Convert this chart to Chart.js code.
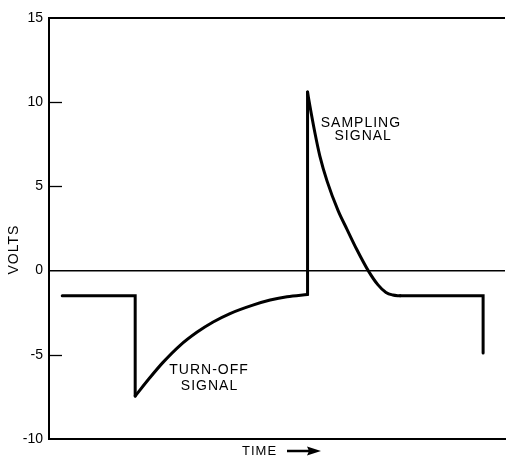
<!DOCTYPE html>
<html>
<head>
<meta charset="utf-8">
<script src="https://cdn.jsdelivr.net/npm/chart.js@4/dist/chart.umd.min.js"></script>
<style>
  html, body { margin: 0; padding: 0; background: #fff; }
  canvas { display: block; }
</style>
</head>
<body>
<canvas id="chart" width="508" height="457"></canvas>
<script>
// tick values on the volts axis
const voltTicks = [15, 10, 5, 0, -5, -10];

// flat level before the turn-off pulse
const leadTime = [2.9, 18.9, 18.9];
const leadVolts = [-1.5, -1.5, -7.45];

// turn-off signal, recovering towards the base level
const turnOffTime = [18.9, 22.15, 25.0, 28.7, 32.5, 36.0, 39.7, 44.7, 48.5, 52.2, 56.7];
const turnOffVolts = [-7.45, -6.35, -5.45, -4.45, -3.65, -3.05, -2.55, -2.05, -1.75, -1.55, -1.42];

// jump up to the sampling peak
const jumpTime = [56.7, 56.7];
const jumpVolts = [-1.42, 10.6];

// sampling signal decaying back
const samplingTime = [56.7, 57.2, 58.3, 59.4, 61.0, 63.4, 65.35, 67.5, 70.0, 72.15, 73.9, 75.4, 77.0];
const samplingVolts = [10.6, 9.8, 8.2, 6.8, 5.3, 3.56, 2.45, 1.25, 0.0, -0.85, -1.3, -1.45, -1.5];

// flat level after, then the drop at the end
const tailTime = [77.0, 95.2, 95.2];
const tailVolts = [-1.5, -1.5, -4.9];

// notes written on the plot
const noteText = ["SAMPLING", "SIGNAL", "TURN-OFF", "SIGNAL"];
const noteTime = [68.4, 68.9, 35.1, 35.2];
const noteVolts = [8.76, 7.99, -5.94, -6.89];

const FONT = "'Liberation Sans', Arial, sans-serif";

function toPoints(xs, ys) {
    return xs.map((x, i) => ({ x: x, y: ys[i] }));
}

function segment(xs, ys, smooth) {
    return {
        data: toPoints(xs, ys),
        borderColor: "#000",
        borderWidth: 3,
        pointRadius: 0,
        fill: false,
        tension: 0,
        cubicInterpolationMode: smooth ? "monotone" : "default",
        borderCapStyle: "round",
        borderJoinStyle: "miter",
    };
}

// cac net ve them: vien tren, vach chia ngan, chu thich, truc thoi gian
const extras = {
    id: "extras",
    afterDatasetsDraw(chart) {
        const { ctx, chartArea, scales } = chart;
        const xs = scales.x, ys = scales.y;
        ctx.save();
        ctx.strokeStyle = "#000";
        ctx.fillStyle = "#000";

        // top frame line
        ctx.lineWidth = 2;
        ctx.beginPath();
        ctx.moveTo(chartArea.left, chartArea.top);
        ctx.lineTo(chartArea.right, chartArea.top);
        ctx.stroke();

        // short inward ticks
        ctx.lineWidth = 1.3;
        voltTicks.forEach(v => {
            if (v === 0 || v === 15 || v === -10) return;
            const y = Math.round(ys.getPixelForValue(v)) + 0.5;
            ctx.beginPath();
            ctx.moveTo(chartArea.left, y);
            ctx.lineTo(chartArea.left + 13, y);
            ctx.stroke();
        });

        // notes
        ctx.font = "14px " + FONT;
        ctx.letterSpacing = "1px";
        ctx.textAlign = "center";
        ctx.textBaseline = "middle";
        noteText.forEach((t, i) => {
            ctx.fillText(t, xs.getPixelForValue(noteTime[i]), ys.getPixelForValue(noteVolts[i]));
        });

        // VOLTS
        ctx.save();
        ctx.translate(14, ys.getPixelForValue(1.25));
        ctx.rotate(-Math.PI / 2);
        ctx.fillText("VOLTS", 0, 0);
        ctx.restore();

        // TIME ->
        ctx.font = "13px " + FONT;
        ctx.textAlign = "left";
        ctx.fillText("TIME", 242, 451);
        ctx.lineWidth = 2.5;
        ctx.beginPath();
        ctx.moveTo(287, 451);
        ctx.lineTo(312, 451);
        ctx.stroke();
        ctx.beginPath();
        ctx.moveTo(321, 451);
        ctx.lineTo(307, 446.5);
        ctx.lineTo(309, 451);
        ctx.lineTo(307, 455.5);
        ctx.closePath();
        ctx.fill();

        ctx.restore();
    }
};

const ctx = document.getElementById("chart").getContext("2d");
const waveChart = new Chart(ctx, {
    type: "line",
    data: {
        datasets: [
            segment(leadTime, leadVolts, false),
            segment(turnOffTime, turnOffVolts, true),
            segment(jumpTime, jumpVolts, false),
            segment(samplingTime, samplingVolts, true),
            segment(tailTime, tailVolts, false),
        ]
    },
    options: {
        responsive: false,
        animation: false,
        devicePixelRatio: 1,
        layout: { padding: { top: 18, right: 3, left: 0, bottom: 0 } },
        plugins: {
            legend: { display: false },
            tooltip: { enabled: false },
        },
        scales: {
            x: {
                type: "linear",
                min: 0,
                max: 100,
                ticks: { display: false },
                grid: { display: false },
                border: { display: true, color: "#000", width: 2 },
                afterFit(scale) { scale.height = 18; },
            },
            y: {
                min: -10,
                max: 15,
                afterBuildTicks(scale) { scale.ticks = voltTicks.map(v => ({ value: v })); },
                ticks: {
                    color: "#000",
                    padding: 6,
                    font: { family: FONT, size: 14 },
                },
                grid: {
                    color: c => (c.tick && c.tick.value === 0 ? "#000" : "rgba(0,0,0,0)"),
                    lineWidth: 1.5,
                    drawTicks: false,
                },
                border: { display: true, color: "#000", width: 2 },
                afterFit(scale) { scale.width = 49; },
            },
        },
    },
    plugins: [extras],
});
</script>
</body>
</html>
